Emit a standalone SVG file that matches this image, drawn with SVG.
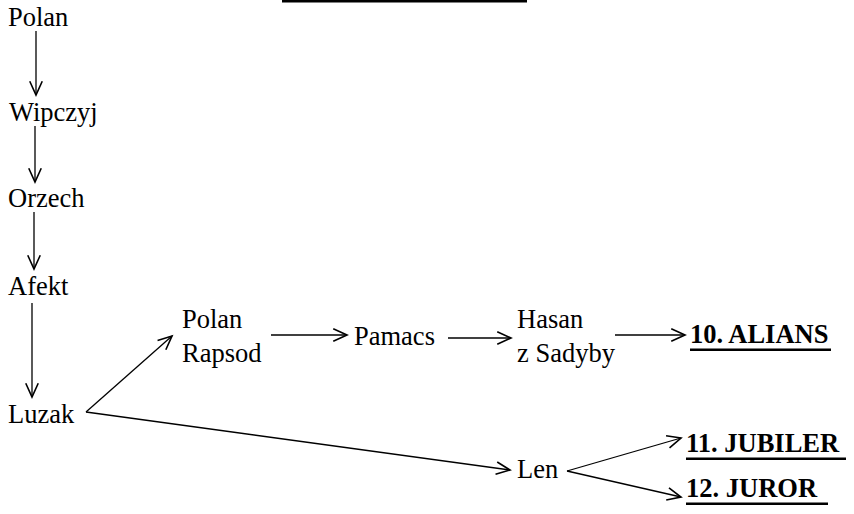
<svg xmlns="http://www.w3.org/2000/svg" width="854" height="514" viewBox="0 0 854 514">
<style>
text { font-family: Liberation Serif, Times New Roman, Tinos, Noto Serif, FreeSerif, serif; font-size: 26.5px; fill: #000; }
.b { font-weight: bold; }
.c { stroke: #000; stroke-width: 1.3; fill: none; marker-end: url(#ah); }
</style>
<defs>
<marker id="ah" markerUnits="userSpaceOnUse" markerWidth="20" markerHeight="20" refX="0" refY="0" viewBox="-14 -8 16 16" orient="auto" overflow="visible">
<path d="M-11,-5 L0,0 L-11,5" fill="none" stroke="#000" stroke-width="1.3"/>
</marker>
</defs>
<rect x="282" y="0" width="245" height="2.5" fill="#000"/>
<g id="n-polan"><text x="8" y="26">Polan</text></g>
<g id="n-wipczyj"><text x="9" y="121">Wipczyj</text></g>
<g id="n-orzech"><text x="8" y="207">Orzech</text></g>
<g id="n-afekt"><text x="8" y="295">Afekt</text></g>
<g id="n-luzak"><text x="8" y="423">Luzak</text></g>
<g id="n-polanrapsod"><text x="182" y="328">Polan</text><text x="182" y="362">Rapsod</text></g>
<g id="n-pamacs"><text x="354" y="345">Pamacs</text></g>
<g id="n-hasan"><text x="517" y="328">Hasan</text><text x="517" y="362">z Sadyby</text></g>
<g id="n-alians"><text class="b" x="690" y="343">10. ALIANS</text><rect x="690" y="348.5" width="141" height="2.5" fill="#000"/></g>
<g id="n-len"><text x="517" y="478">Len</text></g>
<g id="n-jubiler"><text class="b" x="686" y="452">11. JUBILER</text><rect x="686" y="457.5" width="160" height="2.5" fill="#000"/></g>
<g id="n-juror"><text class="b" x="686" y="497">12. JUROR</text><rect x="686" y="502.5" width="142" height="2.5" fill="#000"/></g>
<g id="connectors">
<line class="c" x1="36" y1="31" x2="36" y2="95"/>
<line class="c" x1="35" y1="126" x2="35" y2="182"/>
<line class="c" x1="34" y1="212" x2="34" y2="269"/>
<line class="c" x1="32" y1="303" x2="32" y2="397"/>
<line class="c" x1="86" y1="412" x2="172" y2="336"/>
<line class="c" x1="86" y1="412" x2="510" y2="470"/>
<line class="c" x1="271" y1="335" x2="347" y2="335"/>
<line class="c" x1="448" y1="338" x2="511" y2="338"/>
<line class="c" x1="615" y1="335" x2="685" y2="335"/>
<line class="c" x1="567" y1="471" x2="681" y2="438"/>
<line class="c" x1="567" y1="471" x2="681" y2="497"/>
</g>
</svg>
